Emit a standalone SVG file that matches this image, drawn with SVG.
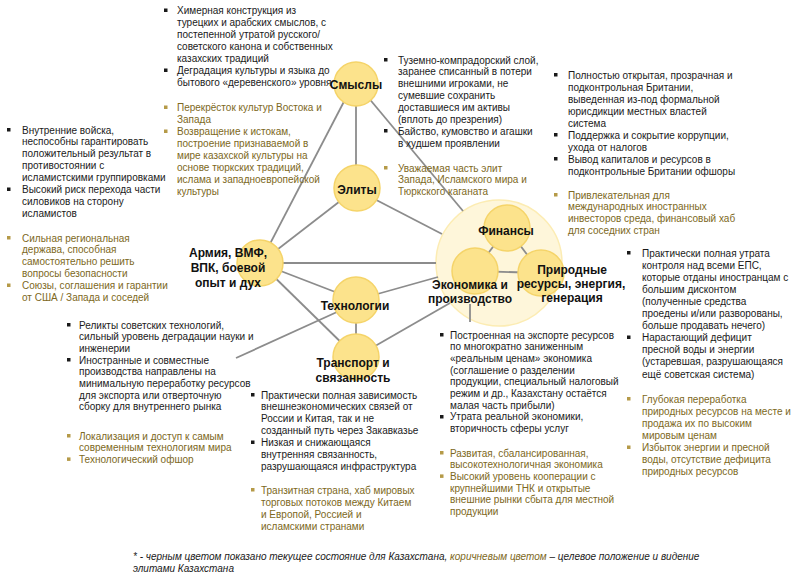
<svg xmlns="http://www.w3.org/2000/svg" width="800" height="580" viewBox="0 0 800 580">
<style>
  text { font-family: "Liberation Sans", Arial, sans-serif; font-size: 10px; }
  .k { fill: #1a1a1a; }
  .b { fill: #7d6822; }
  .kb { fill: #1a1a1a; }
  .bb { fill: #b59a48; }
  .lbl { font-size: 12px; font-weight: bold; fill: #111; text-anchor: middle; }
  .node { fill: #fce38c; stroke: #f5d469; stroke-width: 1.5; }
  .big { fill: #fef6da; stroke: #fcecb3; stroke-width: 1.5; }
  .con line { stroke: #8c8c8c; stroke-width: 1.8; }
  .ptr { stroke: #cfcfcf; stroke-width: 0.9; }
  .fn { font-style: italic; }
</style>
<rect width="800" height="580" fill="#ffffff"/>

<g id="node-cluster">
  <circle class="big" cx="499" cy="263" r="63"/>
</g>

<g id="connectors" class="con">
  <line x1="356" y1="84" x2="356" y2="188"/>
  <line x1="350" y1="90" x2="260" y2="263"/>
  <line x1="357" y1="84" x2="463" y2="211"/>
  <line x1="357" y1="188" x2="260" y2="263"/>
  <line x1="357" y1="190" x2="442" y2="234"/>
  <line x1="260" y1="263" x2="436" y2="263"/>
  <line x1="260" y1="263" x2="356" y2="300"/>
  <line x1="260" y1="263" x2="356" y2="357"/>
  <line x1="356" y1="300" x2="438" y2="277"/>
  <line x1="356" y1="300" x2="356" y2="357"/>
  <line x1="356" y1="357" x2="450" y2="303"/>
  <line x1="507" y1="228" x2="475" y2="271"/>
  <line x1="507" y1="228" x2="541" y2="273"/>
  <line x1="475" y1="271" x2="541" y2="273"/>
  <line class="ptr" x1="236" y1="358" x2="337" y2="312"/>
  <line class="ptr" x1="470" y1="304" x2="470" y2="322"/>
</g>

<g id="node-smysly">
  <circle class="node" cx="356" cy="84" r="22"/>
  <text class="lbl" x="356" y="89">Смыслы</text>
</g>
<g id="node-elity">
  <circle class="node" cx="357" cy="188" r="23"/>
  <text class="lbl" x="357" y="194">Элиты</text>
</g>
<g id="node-armiya">
  <circle class="node" cx="260" cy="263" r="23"/>
  <text class="lbl" x="228" y="257">Армия, ВМФ,</text>
  <text class="lbl" x="228" y="272">ВПК, боевой</text>
  <text class="lbl" x="228" y="287">опыт и дух</text>
</g>
<g id="node-tech">
  <circle class="node" cx="356" cy="300" r="23"/>
  <text class="lbl" x="355" y="310">Технологии</text>
</g>
<g id="node-transport">
  <circle class="node" cx="356" cy="357" r="23"/>
  <text class="lbl" x="353" y="367">Транспорт и</text>
  <text class="lbl" x="353" y="382">связанность</text>
</g>
<g id="node-finance">
  <circle class="node" cx="507" cy="228" r="23"/>
  <text class="lbl" x="506" y="235">Финансы</text>
</g>
<g id="node-economy">
  <circle class="node" cx="475" cy="271" r="23"/>
  <text class="lbl" x="470" y="289">Экономика и</text>
  <text class="lbl" x="470" y="303">производство</text>
</g>
<g id="node-resources">
  <circle class="node" cx="541" cy="273" r="23"/>
  <text class="lbl" x="572" y="274">Природные</text>
  <text class="lbl" x="571" y="288">ресурсы, энергия,</text>
  <text class="lbl" x="572" y="302">генерация</text>
</g>

<!-- Смыслы text -->
<g id="text-smysly">
  <rect class="kb" x="164" y="8.5" width="3.5" height="3.5"/>
  <rect class="kb" x="164" y="68.5" width="3.5" height="3.5"/>
  <text class="k" x="177" y="14">
    <tspan x="177" y="14">Химерная конструкция из</tspan>
    <tspan x="177" y="26">турецких и арабских смыслов, с</tspan>
    <tspan x="177" y="38">постепенной утратой русского/</tspan>
    <tspan x="177" y="50">советского канона и собственных</tspan>
    <tspan x="177" y="62">казахских традиций</tspan>
    <tspan x="177" y="74">Деградация культуры и языка до</tspan>
    <tspan x="177" y="86">бытового «деревенского» уровня</tspan>
  </text>
  <rect class="bb" x="164" y="105.5" width="3.5" height="3.5"/>
  <rect class="bb" x="164" y="129.5" width="3.5" height="3.5"/>
  <text class="b" x="177" y="111">
    <tspan x="177" y="111">Перекрёсток культур Востока и</tspan>
    <tspan x="177" y="123">Запада</tspan>
    <tspan x="177" y="135">Возвращение к истокам,</tspan>
    <tspan x="177" y="147">построение признаваемой в</tspan>
    <tspan x="177" y="159">мире казахской культуры на</tspan>
    <tspan x="177" y="171">основе тюркских традиций,</tspan>
    <tspan x="177" y="183">ислама и западноевропейской</tspan>
    <tspan x="177" y="195">культуры</tspan>
  </text>
</g>

<!-- Элиты text -->
<g id="text-elity">
  <rect class="kb" x="384" y="58" width="3.5" height="3.5"/>
  <rect class="kb" x="384" y="129" width="3.5" height="3.5"/>
  <text class="k">
    <tspan x="398" y="63.5">Туземно-компрадорский слой,</tspan>
    <tspan x="398" y="75.3">заранее списанный в потери</tspan>
    <tspan x="398" y="87.1">внешними игроками, не</tspan>
    <tspan x="398" y="98.9">сумевшие сохранить</tspan>
    <tspan x="398" y="110.7">доставшиеся им активы</tspan>
    <tspan x="398" y="122.5">(вплоть до презрения)</tspan>
    <tspan x="398" y="134.8">Байство, кумовство и агашки</tspan>
    <tspan x="398" y="146.6">в худшем проявлении</tspan>
  </text>
  <rect class="bb" x="384" y="166" width="3.5" height="3.5"/>
  <text class="b">
    <tspan x="398" y="171.5">Уважаемая часть элит</tspan>
    <tspan x="398" y="183.3">Запада, Исламского мира и</tspan>
    <tspan x="398" y="195.1">Тюркского каганата</tspan>
  </text>
</g>

<!-- Финансы text -->
<g id="text-finance">
  <rect class="kb" x="554" y="73" width="3.5" height="3.5"/>
  <rect class="kb" x="554" y="133" width="3.5" height="3.5"/>
  <rect class="kb" x="554" y="157" width="3.5" height="3.5"/>
  <text class="k">
    <tspan x="568" y="78.5">Полностью открытая, прозрачная и</tspan>
    <tspan x="568" y="90.5">подконтрольная Британии,</tspan>
    <tspan x="568" y="102.5">выведенная из-под формальной</tspan>
    <tspan x="568" y="114.5">юрисдикции местных властей</tspan>
    <tspan x="568" y="126.5">система</tspan>
    <tspan x="568" y="138.5">Поддержка и сокрытие коррупции,</tspan>
    <tspan x="568" y="150.5">ухода от налогов</tspan>
    <tspan x="568" y="162.5">Вывод капиталов и ресурсов в</tspan>
    <tspan x="568" y="174.5">подконтрольные Британии офшоры</tspan>
  </text>
  <rect class="bb" x="554" y="193" width="3.5" height="3.5"/>
  <text class="b">
    <tspan x="568" y="198.5">Привлекательная для</tspan>
    <tspan x="568" y="210.2">международных иностранных</tspan>
    <tspan x="568" y="221.9">инвесторов среда, финансовый хаб</tspan>
    <tspan x="568" y="233.6">для соседних стран</tspan>
  </text>
</g>

<!-- Природные ресурсы text -->
<g id="text-resources">
  <rect class="kb" x="627" y="251" width="3.5" height="3.5"/>
  <rect class="kb" x="627" y="335.5" width="3.5" height="3.5"/>
  <text class="k">
    <tspan x="642" y="256.5">Практически полная утрата</tspan>
    <tspan x="642" y="268.6">контроля над всеми ЕПС,</tspan>
    <tspan x="642" y="280.7">которые отданы иностранцам с</tspan>
    <tspan x="642" y="292.8">большим дисконтом</tspan>
    <tspan x="642" y="304.9">(полученные средства</tspan>
    <tspan x="642" y="317">проедены и/или разворованы,</tspan>
    <tspan x="642" y="329.1">больше продавать нечего)</tspan>
    <tspan x="642" y="341.2">Нарастающий дефицит</tspan>
    <tspan x="642" y="353.3">пресной воды и энергии</tspan>
    <tspan x="642" y="365.4">(устаревшая, разрушающаяся</tspan>
    <tspan x="642" y="377.5">ещё советская система)</tspan>
  </text>
  <rect class="bb" x="627" y="397" width="3.5" height="3.5"/>
  <rect class="bb" x="627" y="445.5" width="3.5" height="3.5"/>
  <text class="b">
    <tspan x="642" y="402.5">Глубокая переработка</tspan>
    <tspan x="642" y="414.6">природных ресурсов на месте и</tspan>
    <tspan x="642" y="426.7">продажа их по высоким</tspan>
    <tspan x="642" y="438.8">мировым ценам</tspan>
    <tspan x="642" y="450.9">Избыток энергии и пресной</tspan>
    <tspan x="642" y="463">воды, отсутствие дефицита</tspan>
    <tspan x="642" y="475.1">природных ресурсов</tspan>
  </text>
</g>

<!-- Армия text -->
<g id="text-army">
  <rect class="kb" x="7" y="128" width="3.5" height="3.5"/>
  <rect class="kb" x="7" y="187.5" width="3.5" height="3.5"/>
  <text class="k">
    <tspan x="22" y="133.5">Внутренние войска,</tspan>
    <tspan x="22" y="145.4">неспособны гарантировать</tspan>
    <tspan x="22" y="157.3">положительный результат в</tspan>
    <tspan x="22" y="169.2">противостоянии с</tspan>
    <tspan x="22" y="181.1">исламистскими группировками</tspan>
    <tspan x="22" y="193">Высокий риск перехода части</tspan>
    <tspan x="22" y="204.9">силовиков на сторону</tspan>
    <tspan x="22" y="216.8">исламистов</tspan>
  </text>
  <rect class="bb" x="7" y="236" width="3.5" height="3.5"/>
  <rect class="bb" x="7" y="283.5" width="3.5" height="3.5"/>
  <text class="b">
    <tspan x="22" y="241.5">Сильная региональная</tspan>
    <tspan x="22" y="253.4">держава, способная</tspan>
    <tspan x="22" y="265.3">самостоятельно решить</tspan>
    <tspan x="22" y="277.2">вопросы безопасности</tspan>
    <tspan x="22" y="289.1">Союзы, соглашения и гарантии</tspan>
    <tspan x="22" y="301">от США / Запада и соседей</tspan>
  </text>
</g>

<!-- Технологии text -->
<g id="text-tech">
  <rect class="kb" x="67" y="323" width="3.5" height="3.5"/>
  <rect class="kb" x="67" y="358" width="3.5" height="3.5"/>
  <text class="k">
    <tspan x="79" y="328.5">Реликты советских технологий,</tspan>
    <tspan x="79" y="340.2">сильный уровень деградации науки и</tspan>
    <tspan x="79" y="351.9">инженерии</tspan>
    <tspan x="79" y="363.6">Иностранные и совместные</tspan>
    <tspan x="79" y="375.3">производства направлены на</tspan>
    <tspan x="79" y="387">минимальную переработку ресурсов</tspan>
    <tspan x="79" y="398.7">для экспорта или отверточную</tspan>
    <tspan x="79" y="410.4">сборку для внутреннего рынка</tspan>
  </text>
  <rect class="bb" x="67" y="434" width="3.5" height="3.5"/>
  <rect class="bb" x="67" y="457.4" width="3.5" height="3.5"/>
  <text class="b">
    <tspan x="79" y="439.5">Локализация и доступ к самым</tspan>
    <tspan x="79" y="451.2">современным технологиям мира</tspan>
    <tspan x="79" y="462.9">Технологический офшор</tspan>
  </text>
</g>

<!-- Транспорт text -->
<g id="text-transport">
  <rect class="kb" x="251" y="393" width="3.5" height="3.5"/>
  <rect class="kb" x="251" y="440.5" width="3.5" height="3.5"/>
  <text class="k">
    <tspan x="261" y="398.5">Практически полная зависимость</tspan>
    <tspan x="261" y="410.4">внешнеэкономических связей от</tspan>
    <tspan x="261" y="422.3">России и Китая, так и не</tspan>
    <tspan x="261" y="434.2">созданный путь через Закавказье</tspan>
    <tspan x="261" y="446.1">Низкая и снижающаяся</tspan>
    <tspan x="261" y="458">внутренняя связанность,</tspan>
    <tspan x="261" y="469.9">разрушающаяся инфраструктура</tspan>
  </text>
  <rect class="bb" x="251" y="488" width="3.5" height="3.5"/>
  <text class="b">
    <tspan x="261" y="493.5">Транзитная страна, хаб мировых</tspan>
    <tspan x="261" y="505.7">торговых потоков между Китаем</tspan>
    <tspan x="261" y="517.9">и Европой, Россией и</tspan>
    <tspan x="261" y="530.1">исламскими странами</tspan>
  </text>
</g>

<!-- Экономика text -->
<g id="text-economy">
  <rect class="kb" x="440" y="333" width="3.5" height="3.5"/>
  <rect class="kb" x="440" y="415" width="3.5" height="3.5"/>
  <text class="k">
    <tspan x="450" y="338.5">Построенная на экспорте ресурсов</tspan>
    <tspan x="450" y="350.2">по многократно заниженным</tspan>
    <tspan x="450" y="361.9">«реальным ценам» экономика</tspan>
    <tspan x="450" y="373.6">(соглашение о разделении</tspan>
    <tspan x="450" y="385.3">продукции, специальный налоговый</tspan>
    <tspan x="450" y="397">режим и др., Казахстану остаётся</tspan>
    <tspan x="450" y="408.7">малая часть прибыли)</tspan>
    <tspan x="450" y="420.4">Утрата реальной экономики,</tspan>
    <tspan x="450" y="432.1">вторичность сферы услуг</tspan>
  </text>
  <rect class="bb" x="440" y="451" width="3.5" height="3.5"/>
  <rect class="bb" x="440" y="474.4" width="3.5" height="3.5"/>
  <text class="b">
    <tspan x="450" y="456.5">Развитая, сбалансированная,</tspan>
    <tspan x="450" y="468.2">высокотехнологичная экономика</tspan>
    <tspan x="450" y="479.9">Высокий уровень кооперации с</tspan>
    <tspan x="450" y="491.6">крупнейшими ТНК и открытые</tspan>
    <tspan x="450" y="503.3">внешние рынки сбыта для местной</tspan>
    <tspan x="450" y="515">продукции</tspan>
  </text>
</g>

<!-- footnote -->
<g id="footnote">
  <text class="k fn" x="133" y="559.5">* - черным цветом показано текущее состояние для Казахстана, <tspan class="b">коричневым цветом</tspan> – целевое положение и видение</text>
  <text class="k fn" x="133" y="571.5">элитами Казахстана</text>
</g>
</svg>
